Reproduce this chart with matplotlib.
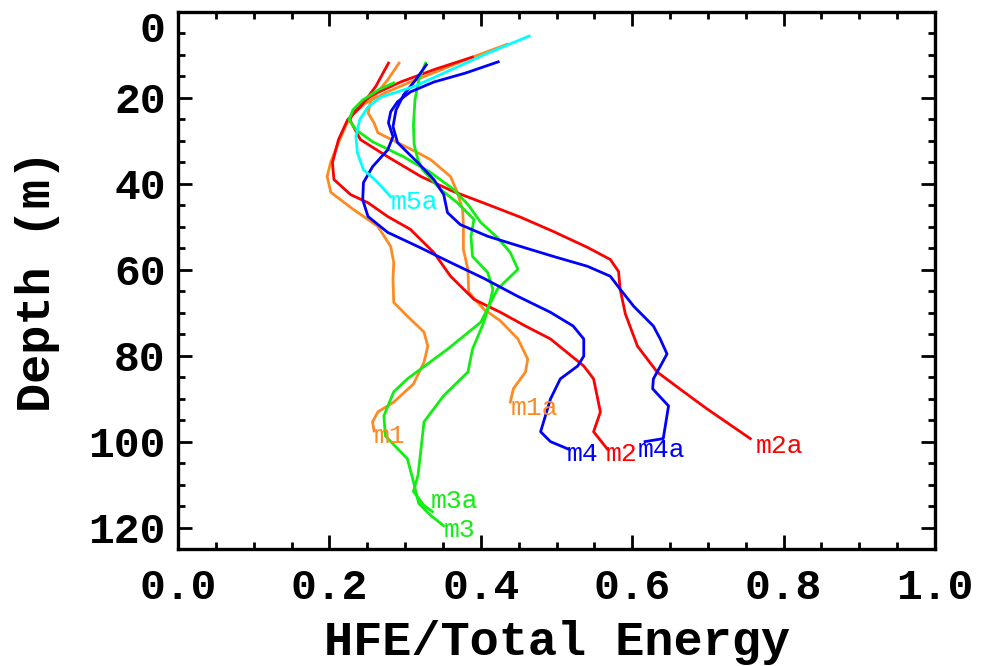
import matplotlib
matplotlib.use("Agg")
import matplotlib.pyplot as plt
import matplotlib.ticker as ticker
import matplotlib.transforms as mtransforms

# --- HFE / total energy profiles ---
m1_x = [0.435, 0.386, 0.347, 0.307, 0.274, 0.248, 0.231, 0.222, 0.212, 0.202, 0.197,
        0.202, 0.232, 0.264, 0.281, 0.285, 0.284, 0.285, 0.303, 0.325, 0.330, 0.325,
        0.311, 0.285, 0.264, 0.257, 0.259]
m1_depth = [7.5, 10.7, 13.5, 16.3, 18.8, 21.2, 23.5, 26.3, 30.4, 34.8, 38.3,
            42.0, 46.0, 49.9, 54.6, 58.3, 62.2, 67.6, 70.8, 74.5, 77.8, 81.5,
            86.6, 90.8, 93.1, 95.4, 97.5]

m1a_x = [0.292, 0.277, 0.255, 0.251, 0.259, 0.264, 0.290, 0.314, 0.334, 0.360, 0.369,
         0.376, 0.377, 0.377, 0.383, 0.384, 0.404, 0.426, 0.449, 0.462, 0.459, 0.443, 0.439]
m1a_depth = [11.9, 15.8, 20.5, 23.5, 25.8, 28.1, 30.4, 32.5, 34.4, 38.3, 42.0,
             46.0, 49.9, 55.3, 59.9, 65.2, 69.2, 71.9, 76.1, 80.8, 83.8, 87.7, 90.8]

m2_x = [0.278, 0.261, 0.241, 0.224, 0.212, 0.204, 0.206, 0.228, 0.251, 0.277, 0.307,
        0.338, 0.360, 0.391, 0.426, 0.459, 0.492, 0.536, 0.549, 0.558, 0.549, 0.567]
m2_depth = [11.9, 17.4, 22.1, 25.1, 29.7, 35.1, 39.0, 42.5, 44.4, 47.6, 50.6,
            56.0, 61.5, 66.9, 69.9, 73.1, 76.1, 82.4, 85.4, 93.1, 97.7, 101.7]

m2a_x = [0.389, 0.340, 0.294, 0.257, 0.235, 0.227, 0.241, 0.277, 0.321, 0.364, 0.409,
         0.453, 0.496, 0.541, 0.571, 0.582, 0.584, 0.591, 0.607, 0.633, 0.668, 0.699, 0.756]
m2a_depth = [10.5, 13.3, 16.3, 19.3, 22.3, 25.1, 29.7, 33.7, 38.3, 41.8, 44.8,
             47.8, 51.1, 54.8, 57.6, 60.4, 64.5, 70.3, 77.8, 83.8, 88.4, 92.4, 99.3]

m3_x = [0.285, 0.265, 0.244, 0.231, 0.226, 0.235, 0.257, 0.298, 0.334, 0.364, 0.383,
        0.400, 0.422, 0.439, 0.449, 0.422, 0.400, 0.356, 0.303, 0.285, 0.272, 0.274,
        0.303, 0.311, 0.318, 0.334, 0.351]
m3_depth = [16.5, 18.1, 20.5, 22.8, 25.1, 27.4, 30.2, 33.7, 37.4, 41.3, 44.8,
            49.0, 52.5, 56.0, 59.9, 64.5, 72.2, 78.5, 85.4, 88.4, 94.0, 98.7,
            104.0, 109.3, 114.4, 117.2, 119.6]

m3a_x = [0.327, 0.318, 0.313, 0.311, 0.312, 0.317, 0.323, 0.347, 0.369, 0.391, 0.387,
         0.389, 0.409, 0.416, 0.413, 0.404, 0.389, 0.383, 0.351, 0.325, 0.321, 0.317,
         0.311, 0.325, 0.336]
m3a_depth = [11.9, 15.8, 20.5, 26.3, 30.9, 34.4, 36.7, 41.3, 44.4, 48.3, 52.2,
             56.9, 60.6, 64.5, 66.9, 72.2, 78.5, 83.8, 89.3, 95.4, 101.7, 107.9,
             111.6, 114.9, 116.3]

m4_x = [0.423, 0.380, 0.338, 0.307, 0.290, 0.281, 0.278, 0.284, 0.277, 0.257, 0.245,
        0.244, 0.251, 0.277, 0.317, 0.360, 0.404, 0.449, 0.492, 0.522, 0.536, 0.536,
        0.528, 0.505, 0.492, 0.479, 0.492, 0.515]
m4_depth = [11.6, 14.2, 16.3, 18.6, 20.9, 23.2, 25.8, 29.0, 32.1, 36.0, 39.7,
            43.7, 47.6, 51.3, 54.6, 58.3, 62.0, 66.2, 69.9, 73.1, 76.1, 80.1,
            82.4, 85.4, 90.1, 97.7, 100.0, 101.7]

m4a_x = [0.328, 0.314, 0.298, 0.288, 0.284, 0.290, 0.317, 0.338, 0.351, 0.356, 0.373,
         0.409, 0.453, 0.496, 0.541, 0.571, 0.584, 0.602, 0.628, 0.637, 0.646, 0.628,
         0.627, 0.648, 0.641, 0.617]
m4a_depth = [12.3, 15.8, 19.3, 22.8, 26.7, 30.4, 35.1, 39.0, 42.5, 46.7, 49.5,
             52.2, 54.6, 56.9, 59.2, 61.5, 64.5, 68.5, 73.1, 76.1, 79.6, 85.4,
             87.7, 91.7, 99.3, 100.0]

m5a_x = [0.464, 0.409, 0.360, 0.311, 0.268, 0.251, 0.240, 0.235, 0.237, 0.245, 0.264, 0.281]
m5a_depth = [5.6, 9.6, 13.5, 17.4, 19.8, 22.1, 25.1, 29.0, 32.8, 36.7, 39.7, 43.0]

names = ["m1", "m1a", "m2", "m2a", "m3", "m3a", "m4", "m4a", "m5a"]
xs = [m1_x, m1a_x, m2_x, m2a_x, m3_x, m3a_x, m4_x, m4a_x, m5a_x]
depths = [m1_depth, m1a_depth, m2_depth, m2a_depth, m3_depth, m3a_depth,
          m4_depth, m4a_depth, m5a_depth]

x_ticks = [0.0, 0.2, 0.4, 0.6, 0.8, 1.0]
depth_ticks = [0, 20, 40, 60, 80, 100, 120]

# styling
ORANGE, RED, GREEN, BLUE, CYAN = "#ff8a22", "#ff0000", "#11ee11", "#0000ff", "#00ffff"
colors = [ORANGE, ORANGE, RED, RED, GREEN, GREEN, BLUE, BLUE, CYAN]
# label offsets from the end of each curve, in points
label_off = {"m1": (0, -4), "m1a": (0, -4), "m2": (-1, -4), "m2a": (4, -5),
             "m3": (0, -3), "m3a": (-1, 8), "m4": (-1, -4), "m4a": (-5, -6),
             "m5a": (0, -4)}

FONT = "Liberation Mono"
plt.rcParams["font.family"] = [FONT, "DejaVu Sans"]

fig = plt.figure(figsize=(9.81, 6.66), dpi=100)
ax = fig.add_axes([178 / 981, 1 - 549 / 666, (935 - 178) / 981, (549 - 12) / 666])

for name, x, d, c in zip(names, xs, depths, colors):
    ax.plot(x, d, color=c, lw=2.0, solid_joinstyle="round")
    dx, dy = label_off[name]
    ax.annotate(name, (x[-1], d[-1]), xytext=(dx, dy), textcoords="offset points",
                ha="left", va="center", color=c, fontsize=19, family=FONT)

ax.set_xlim(0, 1.0)
ax.set_ylim(125, 0)
ax.set_xticks(x_ticks)
ax.set_xticklabels([f"{v:.1f}" for v in x_ticks], fontweight="bold")
ax.set_yticks(depth_ticks)
ax.set_yticklabels([str(v) for v in depth_ticks], fontweight="bold")
ax.xaxis.set_minor_locator(ticker.MultipleLocator(0.05))
ax.yaxis.set_minor_locator(ticker.MultipleLocator(5))

ax.tick_params(which="both", direction="in", top=True, right=True, width=2.0)
ax.tick_params(which="major", length=10)
ax.tick_params(which="minor", length=5)
ax.tick_params(axis="x", which="major", pad=14, labelsize=31)
ax.tick_params(axis="y", which="major", pad=9, labelsize=31)
for s in ax.spines.values():
    s.set_linewidth(2.4)

# the "0" depth label sits a little lower than its tick
zero_lab = ax.yaxis.get_major_ticks()[0].label1
zero_lab.set_transform(zero_lab.get_transform() +
                       mtransforms.ScaledTranslation(0, -0.15, fig.dpi_scale_trans))

ax.set_xlabel("HFE/Total Energy", fontsize=35, fontweight="bold", labelpad=8)
ax.set_ylabel("Depth (m)", fontsize=35, fontweight="bold", labelpad=20)

fig.savefig("out.png", dpi=100)
